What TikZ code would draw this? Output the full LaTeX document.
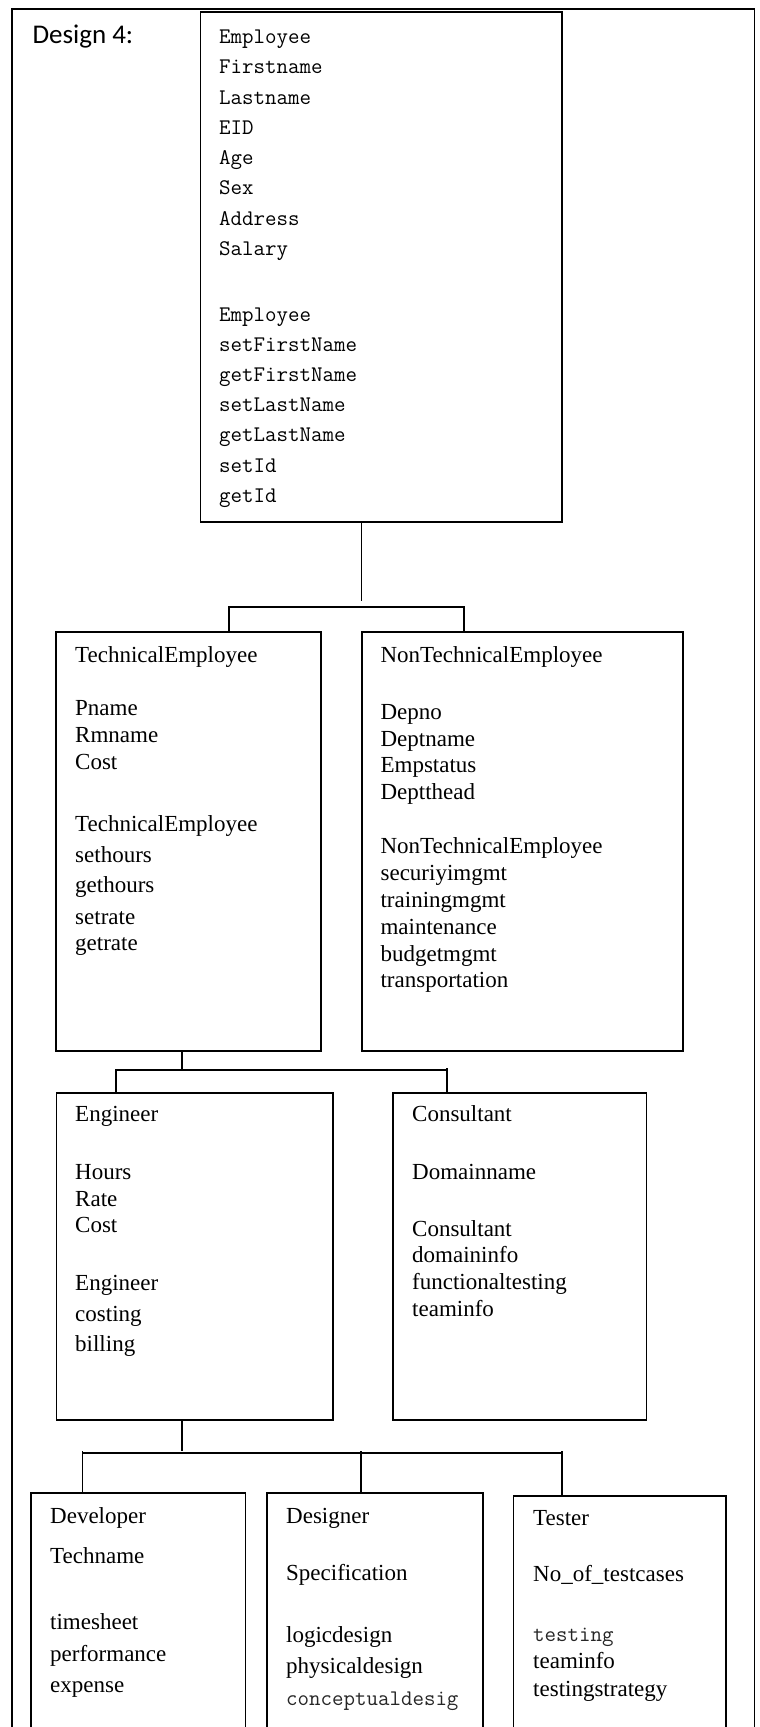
\documentclass[tikz,border=0pt]{standalone}
\usepackage{fontspec}
\setmainfont{Liberation Serif}
\newfontfamily\designfont{Carlito}
\usepackage{tikz}
\tikzset{
	every box/.style={draw, line width=1.7pt, rectangle, anchor=north west, inner sep=0pt},
	every field/.style={anchor=base west, inner sep=0pt, font=\fontsize{23}{27}\selectfont},
	every code/.style={anchor=base west, inner sep=0pt, font=\fontsize{22.3}{26}\selectfont\ttfamily},
	greycode/.style={every code, text=black!85},
	link/.style={line width=1.4pt},
}

\begin{document}
\begin{tikzpicture}[x=1pt, y=-1pt]
		\useasboundingbox (0,0) rectangle (760,1727);
		\clip (0,0) rectangle (760,1727);
		\draw [line width=1.5pt] (12,9) rectangle (754.3,1760);
		\node [anchor=base west, inner sep=0pt, font=\fontsize{27}{31}\selectfont\designfont] (title) at (32.3,43) {Design 4:};
		\foreach \n/\x/\y/\w/\h in {emp/199.7/11/361.5/510, tech/54.8/631/265.2/419, nontech/361/631/321.3/419, eng/55.7/1092/276.3/327, cons/392/1092/253.5/327, dev/30/1492/214.7/268, desg/266/1492/216/268, test/512.7/1495/212.3/265} {
			\node [every box/.try, minimum width=\w pt, minimum height=\h pt] (\n) at (\x,\y) {};
		};
		\foreach \t/\y [count=\i] in {Employee/43.5, Firstname/73.75, Lastname/104, EID/134.25, Age/164.5, Sex/194.75, Address/225, Salary/255.25, Employee/321, setFirstName/351.2, getFirstName/381.4, setLastName/411.6, getLastName/441.8, setId/472, getId/502.2} {
			\node [every code/.try] (emp-\i) at (219,\y) {\t};
		};
		\foreach \t/\y [count=\i] in {TechnicalEmployee/662.7, Pname/715, Rmname/742.7, Cost/769, TechnicalEmployee/831, sethours/862, gethours/892.7, setrate/924, getrate/950} {
			\node [every field/.try] (tech-\i) at (75,\y) {\t};
		};
		\foreach \t/\y [count=\i] in {NonTechnicalEmployee/662.7, Depno/719, Deptname/746, Empstatus/772.7, Deptthead/799, NonTechnicalEmployee/853, securiyimgmt/880, trainingmgmt/907.7, maintenance/934, budgetmgmt/961, transportation/987.7} {
			\node [every field/.try] (nontech-\i) at (380.4,\y) {\t};
		};
		\foreach \t/\y [count=\i] in {Engineer/1121.7, Hours/1179, Rate/1206, Cost/1232.7, Engineer/1290, costing/1321, billing/1351} {
			\node [every field/.try] (eng-\i) at (75,\y) {\t};
		};
		\foreach \t/\y [count=\i] in {Consultant/1121.7, Domainname/1179, Consultant/1236, domaininfo/1262.7, functionaltesting/1289, teaminfo/1316} {
			\node [every field/.try] (cons-\i) at (412,\y) {\t};
		};
		\foreach \t/\y [count=\i] in {Developer/1523, Techname/1563.7, timesheet/1629, performance/1661, expense/1692} {
			\node [every field/.try] (dev-\i) at (50,\y) {\t};
		};
		\foreach \t/\y/\s [count=\i] in {Designer/1523/every field, Specification/1580/every field, logicdesign/1642/every field, physicaldesign/1673/every field, conceptualdesig/1705/greycode} {
			\node [\s] (desg-\i) at (286,\y) {\t};
		};
		\foreach \t/\y/\s [count=\i] in {Tester/1525/every field, No\_of\_testcases/1581.7/every field, testing/1641/greycode, teaminfo/1668/every field, testingstrategy/1696/every field} {
			\node [\s] (test-\i) at (533,\y) {\t};
		};

		\coordinate (stem1) at (361.5,601);
		\coordinate (bar1-l) at (229,607);
		\coordinate (bar1-r) at (464,607);
		\draw [link] (emp.south -| stem1) -- (stem1);
		\draw [link] (bar1-l |- tech.north) -- (bar1-l) -- (bar1-r) -- (bar1-r |- nontech.north);

		\coordinate (stem2) at (182,1070);
		\coordinate (bar2-l) at (116,1070);
		\coordinate (bar2-r) at (447,1070);
		\draw [link] (tech.south -| stem2) -- (stem2);
		\draw [link] (bar2-l |- eng.north) -- (bar2-l) -- (bar2-r);
		\draw [link] ([yshift=2pt]bar2-r) -- (bar2-r |- cons.north);

		\coordinate (stem3) at (182,1451);
		\coordinate (bar3-l) at (82.4,1453);
		\coordinate (bar3-m) at (361,1453);
		\coordinate (bar3-r) at (562,1453);
		\draw [link] (eng.south -| stem3) -- (stem3);
		\draw [link] (bar3-l) -- (bar3-r);
		\foreach \b/\c in {dev/bar3-l, desg/bar3-m, test/bar3-r} {
			\draw [link] ([yshift=2pt]\c) -- (\c |- \b.north);
		};
	\end{tikzpicture}
\end{document}
